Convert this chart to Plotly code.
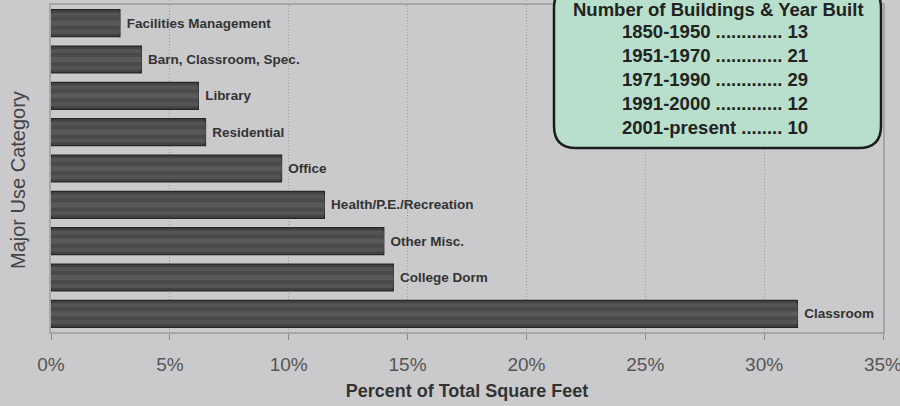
import plotly.graph_objects as go

# Share of total campus square footage by major use category (top to bottom)
categories = [
    "Facilities Management",
    "Barn, Classroom, Spec.",
    "Library",
    "Residential",
    "Office",
    "Health/P.E./Recreation",
    "Other Misc.",
    "College Dorm",
    "Classroom",
]
percent_sqft = [2.9, 3.8, 6.2, 6.5, 9.7, 11.5, 14.0, 14.4, 31.4]

# Building counts by construction period
periods = ["1850-1950", "1951-1970", "1971-1990", "1991-2000", "2001-present"]
building_counts = [13, 21, 29, 12, 10]
leader_dots = [13, 13, 13, 13, 8]

x_ticks = [0, 5, 10, 15, 20, 25, 30, 35]
x_tick_labels = ["0%", "5%", "10%", "15%", "20%", "25%", "30%", "35%"]

BG = "#cacacc"
FONT = "Liberation Sans, Arial, sans-serif"

fig = go.Figure()

# Shaded cylinder look: stacked bands of decreasing thickness
bands = [
    (0.74, "#434343", "#262626", 1.2),
    (0.58, "#545454", None, 0),
    (0.36, "#4a4a4a", None, 0),
    (0.14, "#595959", None, 0),
]
for i, (w, fill, edge, lw) in enumerate(bands):
    fig.add_trace(go.Bar(
        y=categories,
        x=percent_sqft,
        orientation="h",
        width=w,
        marker=dict(color=fill,
                    line=dict(color=edge if edge else fill, width=lw)),
        text=[" " + c for c in categories] if i == 0 else None,
        textposition="outside" if i == 0 else "none",
        textfont=dict(family=FONT, size=13.5, color="#333333", weight="bold"),
        constraintext="none",
        cliponaxis=False,
        hoverinfo="x+y" if i == 0 else "skip",
        showlegend=False,
    ))

# Plot-area geometry in pixels, used for placing the info box
L, R, T, B = 51, 17, 5, 74
W, H = 900, 406
pw, ph = W - L - R, H - T - B


def px_x(p):
    return (p - L) / pw


def px_y(p):
    return (H - B - p) / ph


# Rounded info box
bx0, bx1, by0, by1, rad = 554, 881, -14, 148, 22
x0, x1 = px_x(bx0), px_x(bx1)
yt, yb = px_y(by0), px_y(by1)
rx, ry = rad / pw, rad / ph
path = (
    f"M {x0 + rx},{yt} L {x1 - rx},{yt} Q {x1},{yt} {x1},{yt - ry} "
    f"L {x1},{yb + ry} Q {x1},{yb} {x1 - rx},{yb} "
    f"L {x0 + rx},{yb} Q {x0},{yb} {x0},{yb + ry} "
    f"L {x0},{yt - ry} Q {x0},{yt} {x0 + rx},{yt} Z"
)
fig.add_shape(type="path", path=path, xref="paper", yref="paper",
              fillcolor="#b8dfcb", line=dict(color="#1c1c1c", width=2.5),
              layer="above")

fig.add_annotation(
    x=px_x(718), y=px_y(10), xref="paper", yref="paper",
    text="<b>Number of Buildings &amp; Year Built</b>", showarrow=False,
    xanchor="center", yanchor="middle",
    font=dict(family=FONT, size=18.5, color="#222222"),
)
rows = [f"{p} {'.' * d} {c}" for p, d, c in zip(periods, leader_dots, building_counts)]
fig.add_annotation(
    x=px_x(620), y=px_y(79), xref="paper", yref="paper",
    text="<b>" + "<br>".join(rows) + "</b>", showarrow=False,
    xanchor="left", yanchor="middle", align="left",
    font=dict(family=FONT, size=18.5, color="#222222"),
)

# Vertical axis title
fig.add_annotation(
    x=px_x(18), y=px_y(180), xref="paper", yref="paper",
    text="Major Use Category", showarrow=False, textangle=-90,
    xanchor="center", yanchor="middle",
    font=dict(family=FONT, size=20, color="#444444"),
)

fig.update_layout(
    width=W, height=H,
    margin=dict(l=L, r=R, t=T, b=B, autoexpand=False),
    paper_bgcolor=BG, plot_bgcolor=BG,
    barmode="overlay",
    bargap=0.26,
    font=dict(family=FONT),
    xaxis=dict(
        range=[0, 35], tickvals=x_ticks, ticktext=x_tick_labels,
        showgrid=True, gridcolor="#999999", griddash="1px,2px", gridwidth=1,
        showline=True, linecolor="#a6a6a6", linewidth=2, mirror=True,
        ticks="outside", ticklen=6, tickcolor="#8a8a8a", tickwidth=1,
        ticklabelstandoff=8, ticklabeloverflow="allow",
        tickfont=dict(family=FONT, size=19, color="#555555"),
        zeroline=False,
        title=dict(text="Percent of Total Square Feet", standoff=11,
                   font=dict(family=FONT, size=18, color="#333333", weight="bold")),
    ),
    yaxis=dict(
        autorange="reversed", showticklabels=False, ticks="",
        showgrid=False, zeroline=False,
        showline=True, linecolor="#a6a6a6", linewidth=2, mirror=True,
    ),
)

fig.write_html("out.html")
